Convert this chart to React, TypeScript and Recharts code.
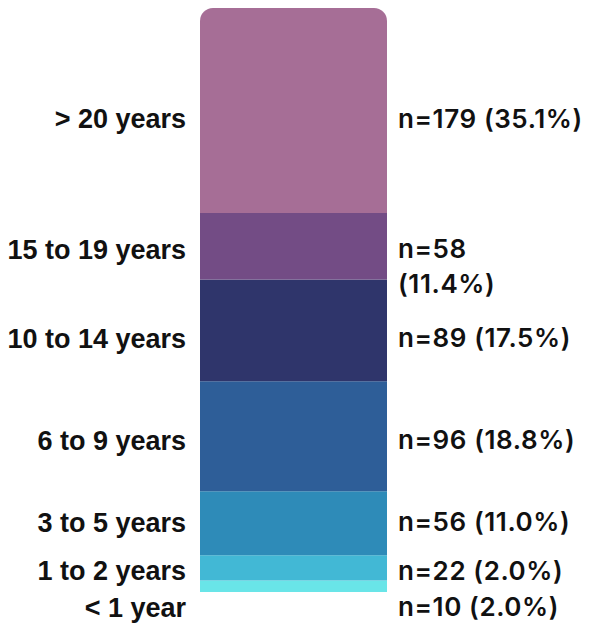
import { BarChart, Bar, XAxis, YAxis, LabelList } from "recharts";

const groups = ["< 1 year", "1 to 2 years", "3 to 5 years", "6 to 9 years", "10 to 14 years", "15 to 19 years", "> 20 years"];
const counts = [10, 22, 56, 96, 89, 58, 179];
const percents = ["2.0%", "2.0%", "11.0%", "18.8%", "17.5%", "11.4%", "35.1%"];
const colors = ["#69E5E8", "#42B8D5", "#2E8BB8", "#2E5E98", "#2F356B", "#734C85", "#A66E96"];
const total = 510;

// vertical nudge of labels relative to the segment centre
const nudge = [21, 3, -1, 4, 8, 3, 8];
const wrapRight = ["15 to 19 years"];

const row: Record<string, number | string> = { name: "all" };
groups.forEach((g, i) => {
  row["k" + i] = counts[i];
});
const data = [row];

const makeLabel = (i: number) => (props: any) => {
  const { x, y, width, height } = props;
  const top = Math.min(Number(y), Number(y) + Number(height));
  const cy = top + Math.abs(Number(height)) / 2 + nudge[i];
  const left = Number(x) - 14;
  const right = Number(x) + Number(width) + 11;
  const nText = `n=${counts[i]}`;
  const pText = `(${percents[i]})`;
  const wrap = wrapRight.includes(groups[i]);
  const rightStyle = { letterSpacing: "0.6px" };
  return (
    <g>
      <text x={left} y={cy} dy="0.35em" textAnchor="end" fontFamily="'Liberation Sans', Arial, sans-serif" fontWeight={700} fontSize={27} fill="#111">
        {groups[i]}
      </text>
      {wrap ? (
        <text x={right} y={cy} dy="0.35em" textAnchor="start" fontFamily="Inter, sans-serif" fontWeight={600} fontSize={26} fill="#111" style={rightStyle}>
          <tspan x={right}>{nText}</tspan>
          <tspan x={right} dy="1.32em">{pText}</tspan>
        </text>
      ) : (
        <text x={right} y={cy} dy="0.35em" textAnchor="start" fontFamily="Inter, sans-serif" fontWeight={600} fontSize={26} fill="#111" style={rightStyle}>
          {`${nText} ${pText}`}
        </text>
      )}
    </g>
  );
};

export default function App() {
  return (
    <div style={{ position: "absolute", left: 0, top: 0, background: "#fff" }}>
      <BarChart
        width={590}
        height={627}
        data={data}
        margin={{ top: 8, right: 203, bottom: 35, left: 200 }}
        barCategoryGap={0}
      >
        <XAxis dataKey="name" hide />
        <YAxis hide domain={[0, total]} />
        {groups.map((g, i) => (
          <Bar
            key={g}
            dataKey={"k" + i}
            stackId="a"
            fill={colors[i]}
            radius={i === groups.length - 1 ? [13, 13, 0, 0] : 0}
            isAnimationActive={false}
          >
            <LabelList dataKey={"k" + i} content={makeLabel(i)} />
          </Bar>
        ))}
      </BarChart>
    </div>
  );
}
